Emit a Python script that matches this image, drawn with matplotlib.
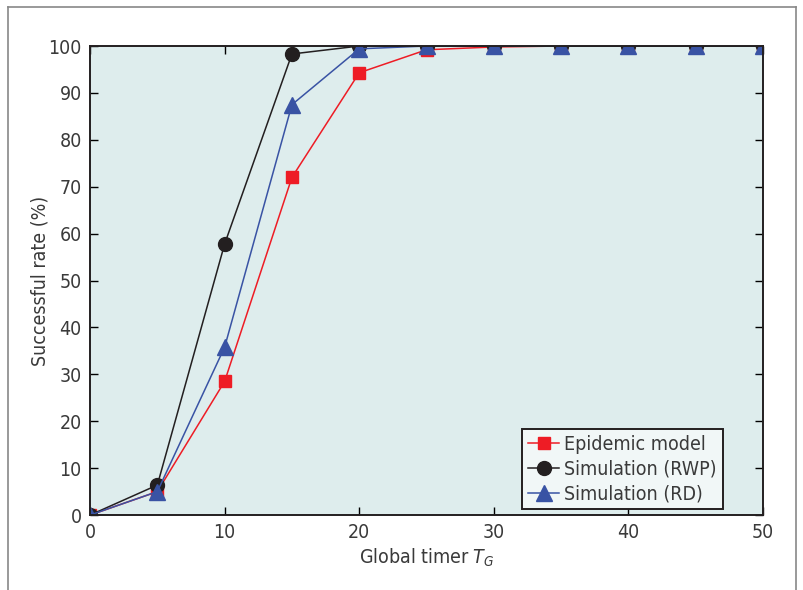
import matplotlib
matplotlib.use("Agg")
import matplotlib.pyplot as plt
from matplotlib.lines import Line2D

plt.rcParams['font.family'] = ['DejaVu Sans']
plt.rcParams['font.stretch'] = 'condensed'

# data
timer = [0, 5, 10, 15, 20, 25, 30, 35, 40, 45, 50]
epidemic = [0, 5.0, 28.5, 72.0, 94.3, 99.2, 99.8, 100, 100, 100, 100]
sim_rwp = [0, 6.4, 57.8, 98.3, 100, 100, 100, 100, 100, 100, 100]
sim_rd = [0, 5.0, 35.8, 87.5, 99.4, 100, 100, 100, 100, 100, 100]

txt = '#3a3a3a'

fig = plt.figure(figsize=(8.04, 5.90), dpi=100)
ax = fig.add_axes([0.112, 0.127, 0.837, 0.795])
ax.set_facecolor('#deeded')

ax.plot(timer, epidemic, color='#ee1c25', lw=1.1, marker='s', ms=9, label='Epidemic model')
ax.plot(timer, sim_rwp, color='#231f20', lw=1.1, marker='o', ms=10, label='Simulation (RWP)')
ax.plot(timer, sim_rd, color='#3953a4', lw=1.1, marker='^', ms=11, label='Simulation (RD)')

ax.set_xlim(0, 50)
ax.set_ylim(0, 100)
ax.set_xticks(range(0, 51, 10))
ax.set_yticks(range(0, 101, 10))
ax.tick_params(direction='in', top=True, right=True, length=6, width=1,
               labelsize=14, labelcolor=txt, pad=6)
for s in ax.spines.values():
    s.set_linewidth(1.4)
    s.set_color('#231f20')

ax.set_xlabel('Global timer $T_G$', fontsize=14, color=txt, labelpad=3)
ax.set_ylabel('Successful rate (%)', fontsize=14, color=txt, labelpad=-1)

leg = ax.legend(loc='lower right', bbox_to_anchor=(0.94, 0.012), fontsize=14,
                fancybox=False, edgecolor='#231f20', facecolor='#f1f7f7', framealpha=1,
                handlelength=1.6, handletextpad=0.25, labelspacing=0.3, borderpad=0.3,
                borderaxespad=0)
leg.get_frame().set_linewidth(1.4)
for t in leg.get_texts():
    t.set_color(txt)

# outer frame of the figure
fig.add_artist(Line2D([0.01, 0.99], [0.988, 0.988], color='#888888', lw=1.2))
fig.add_artist(Line2D([0.01, 0.01], [0.0, 0.988], color='#888888', lw=1.2))
fig.add_artist(Line2D([0.99, 0.99], [0.0, 0.988], color='#888888', lw=1.2))

fig.savefig('out.png', dpi=100)
